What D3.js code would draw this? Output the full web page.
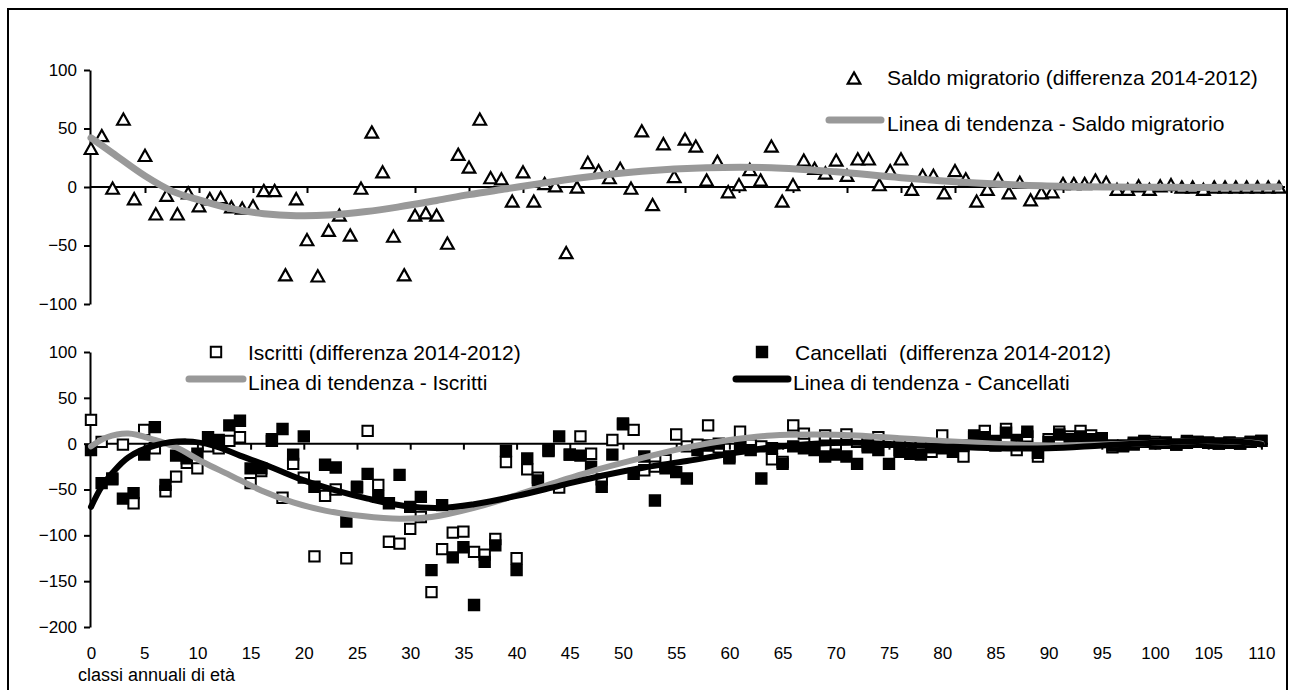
<!DOCTYPE html>
<html><head><meta charset="utf-8">
<script src="https://cdn.jsdelivr.net/npm/d3@7"></script>
<style>
body{margin:0;background:#fff}
svg{display:block}
text{font-family:"Liberation Sans",Arial,sans-serif;fill:#000}
</style>
</head><body>
<svg id="c" width="1295" height="690"></svg>
<script>
// ---- data ----
const ages = d3.range(0, 111); // classi annuali di età 0..110
const saldo = [33,44,-1,58,-10,27,-23,-7,-23,-5,-16,-10,-9,-17,-18,-16,-3,-3,-75,-10,
  -45,-76,-37,-24,-41,-1,47,13,-42,-75,-24,-22,-24,-48,28,17,58,8,7,-12,
  13,-12,3,1,-56,0,21,14,8,16,-1,48,-15,37,9,41,35,6,22,-4,
  2,15,6,35,-12,2,23,16,12,23,10,24,24,2,14,24,-2,10,10,-5,
  14,7,-12,-2,7,-5,4,-11,-5,-4,3,3,3,6,4,-2,-2,1,-2,1,
  2,0,0,-2,0,0,0,0,0,0,0];
const iscritti = [26,2,-39,-1,-65,15,-5,-52,-36,-21,-27,-3,-5,3,7,-43,-30,3,-59,-22,
  -37,-123,-57,-50,-125,-48,14,-45,-107,-109,-93,-80,-162,-115,-97,-96,-118,-121,-104,-20,
  -125,-28,-37,-7,-48,-12,8,-11,-39,4,21,15,-29,-25,-18,10,-3,-1,20,-4,
  -14,13,-1,-3,-17,-20,20,11,5,9,-2,10,2,-2,7,2,-9,-1,-2,-9,
  9,-2,-14,7,14,-2,16,-7,8,-14,5,13,8,14,9,4,-4,-2,-1,3,
  2,1,-1,1,2,1,0,1,0,2,3];
const cancellati = [-7,-43,-38,-60,-54,-12,18,-45,-13,-16,-11,7,4,20,25,-27,-27,5,16,-12,
  8,-47,-23,-26,-85,-47,-33,-58,-65,-34,-69,-58,-138,-67,-124,-113,-176,-129,-111,-8,
  -138,-16,-40,-8,8,-12,-13,-25,-47,-12,22,-33,-14,-62,-27,-31,-38,-7,-2,0,
  -16,-2,-7,-38,-5,-22,-3,-5,-7,-14,-12,-14,-22,-4,-7,-22,-7,-11,-12,-4,
  -5,-9,-2,9,7,3,12,4,13,-10,2,10,5,8,5,6,-2,-3,1,2,
  0,1,-1,3,2,1,0,1,0,2,3];

// trend lines (read at a few ages)
const trendSaldoAge = [0,2,5,7.5,10,13,16,19,22,25.5,28.5,32,35,38.5,42,45,51,57,63,69,75,82,88,94,100,106,110];
const trendSaldo    = [42,29,9.5,-3.5,-11,-18.5,-22.8,-24.5,-24,-21,-17,-11.5,-6.5,-1.5,3.5,7.5,13.5,16.5,16.5,13,8,3.5,1,0,-0.3,-0.3,0];
const trendIscrAge  = [0,1.5,3.5,6,8,10.5,13,16,19,22,25.5,29,32,36,40,44,48,52,56,60,64,68,72,76,80,85,90,95,100,104,108,110];
const trendIscritti = [-3,7,11,4,-4,-20,-34,-51,-64,-73,-79,-82,-80,-70,-56,-41,-27,-15,-4,4,9,10,9,6,3,0,-2,-1,1,3,2,0];
const trendCancAge  = [0,1,2,3.5,6,9,11.5,14,17,20,23,26,29.5,33,36,40,44,48,52,56,60,64,68,72,76,80,85,90,95,100,104,108,110];
const trendCancellati = [-69,-47,-32,-15,-2,2.5,-2,-13,-26,-40,-51,-60,-68,-70,-66,-57,-46,-35,-26,-19,-11,-4,0,1,-1,-3,-5,-5,-2,1,3,2,-1];

const yTicksTop = [-100,-50,0,50,100];
const yTicksBot = [-200,-150,-100,-50,0,50,100];
const xTicks = d3.range(0, 111, 5);

const legendTop = ["Saldo migratorio (differenza 2014-2012)", "Linea di tendenza - Saldo migratorio"];
const legendBot = ["Iscritti (differenza 2014-2012)", "Linea di tendenza - Iscritti",
                   "Cancellati  (differenza 2014-2012)", "Linea di tendenza - Cancellati"];
const xTitle = "classi annuali di età";

// ---- drawing ----
const GRAY = "#999999";
const svg = d3.select("#c");
svg.append("rect").attr("x",8).attr("y",9).attr("width",1279).attr("height",700)
  .attr("fill","none").attr("stroke","#000").attr("stroke-width",2);

const xTop = d3.scaleLinear().domain([0,110]).range([91,1279]);
const xBot = d3.scaleLinear().domain([0,110]).range([91,1261.4]);
const yTop = d3.scaleLinear().domain([-100,100]).range([304,70]);
const yBot = d3.scaleLinear().domain([-200,100]).range([627,352]);

function yAxis(y, ticks){
  const g = svg.append("g").attr("transform","translate(90,0)")
    .call(d3.axisLeft(y).tickValues(ticks).tickSize(6).tickSizeOuter(0).tickPadding(7));
  g.select(".domain").attr("stroke","#000").attr("stroke-width",2);
  g.selectAll(".tick line").attr("stroke","#000").attr("stroke-width",2);
  g.selectAll(".tick text").style("font-size","17px");
  g.attr("font-family",null);
}
function zeroLine(x, y, xEnd){
  svg.append("line").attr("x1",90).attr("x2",xEnd).attr("y1",y(0)).attr("y2",y(0))
    .attr("stroke","#000").attr("stroke-width",2);
  const g = svg.append("g").attr("transform",`translate(0,${y(0)})`)
    .call(d3.axisBottom(x).tickValues(xTicks.slice(1)).tickSize(6).tickFormat(""));
  g.select(".domain").remove();
  g.selectAll(".tick line").attr("stroke","#000").attr("stroke-width",2);
}
yAxis(yTop, yTicksTop);
yAxis(yBot, yTicksBot);
zeroLine(xTop, yTop, 1285);
zeroLine(xBot, yBot, 1268);

// x labels (bottom)
const gx = svg.append("g").attr("transform","translate(0,647)")
  .call(d3.axisBottom(xBot).tickValues(xTicks).tickSize(0).tickPadding(0));
gx.select(".domain").remove();
gx.attr("font-family",null);
gx.selectAll(".tick text").style("font-size","17px").attr("dy","0.71em");
svg.append("text").attr("x",78).attr("y",681).style("font-size","18px").text(xTitle);

const tri = "M0,-5.6L6.3,5.6L-6.3,5.6Z";
const sq = "M-5.2,-5.2H5.2V5.2H-5.2Z";

// top panel: triangles
svg.append("g").selectAll("path").data(ages).join("path")
  .attr("d",tri).attr("transform",a=>`translate(${xTop(a)},${yTop(saldo[a])})`)
  .attr("fill","#fff").attr("stroke","#000").attr("stroke-width",2.2).attr("stroke-linejoin","miter");

const curve = d3.curveCatmullRom.alpha(0.5);
svg.append("path").datum(trendSaldoAge)
  .attr("d", d3.line().x(a=>xTop(a)).y((a,i)=>yTop(trendSaldo[i])).curve(curve))
  .attr("fill","none").attr("stroke",GRAY).attr("stroke-width",7).attr("stroke-linecap","round");

// bottom panel: squares
svg.append("g").selectAll("path").data(ages).join("path")
  .attr("d",sq).attr("transform",a=>`translate(${xBot(a)},${yBot(iscritti[a])})`)
  .attr("fill","#fff").attr("stroke","#000").attr("stroke-width",2);
svg.append("g").selectAll("path").data(ages).join("path")
  .attr("d",sq).attr("transform",a=>`translate(${xBot(a)},${yBot(cancellati[a])})`)
  .attr("fill","#000").attr("stroke","#000").attr("stroke-width",2);

svg.append("path").datum(trendIscrAge)
  .attr("d", d3.line().x(a=>xBot(a)).y((a,i)=>yBot(trendIscritti[i])).curve(curve))
  .attr("fill","none").attr("stroke",GRAY).attr("stroke-width",6).attr("stroke-linecap","round");
svg.append("path").datum(trendCancAge)
  .attr("d", d3.line().x(a=>xBot(a)).y((a,i)=>yBot(trendCancellati[i])).curve(curve))
  .attr("fill","none").attr("stroke","#000").attr("stroke-width",6).attr("stroke-linecap","round");

// legends
const lg = svg.append("g").style("font-size","21px");
lg.append("path").attr("d",tri).attr("transform","translate(854,78)")
  .attr("fill","#fff").attr("stroke","#000").attr("stroke-width",2.2);
lg.append("text").attr("x",887).attr("y",85).text(legendTop[0]);
lg.append("line").attr("x1",829).attr("x2",881).attr("y1",120).attr("y2",120)
  .attr("stroke",GRAY).attr("stroke-width",7).attr("stroke-linecap","round");
lg.append("text").attr("x",887).attr("y",131).text(legendTop[1]);

lg.append("path").attr("d",sq).attr("transform","translate(216,352)")
  .attr("fill","#fff").attr("stroke","#000").attr("stroke-width",2);
lg.append("text").attr("x",248).attr("y",360).text(legendBot[0]);
lg.append("line").attr("x1",189).attr("x2",243).attr("y1",379).attr("y2",379)
  .attr("stroke",GRAY).attr("stroke-width",7).attr("stroke-linecap","round");
lg.append("text").attr("x",248).attr("y",390).text(legendBot[1]);

lg.append("path").attr("d",sq).attr("transform","translate(762,352)")
  .attr("fill","#000").attr("stroke","#000").attr("stroke-width",2);
lg.append("text").attr("x",795).attr("y",360).style("white-space","pre").text(legendBot[2]);
lg.append("line").attr("x1",736).attr("x2",788).attr("y1",379).attr("y2",379)
  .attr("stroke","#000").attr("stroke-width",7).attr("stroke-linecap","round");
lg.append("text").attr("x",793).attr("y",390).text(legendBot[3]);
</script>
</body></html>
